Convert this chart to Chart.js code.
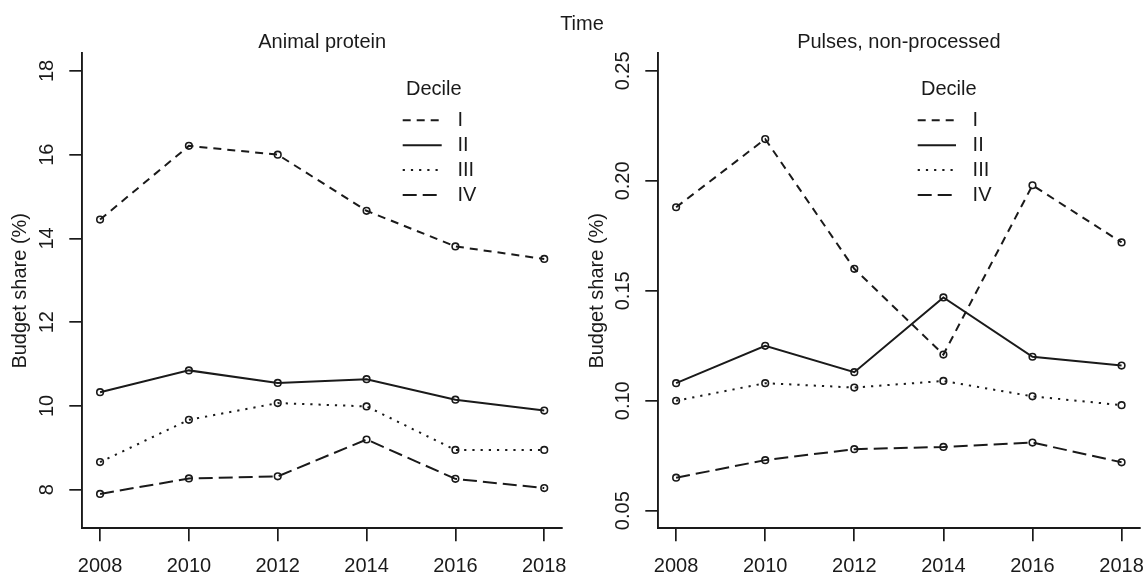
<!DOCTYPE html>
<html><head><meta charset="utf-8">
<script src="https://cdn.jsdelivr.net/npm/chart.js@4.4.1/dist/chart.umd.min.js"></script>
<style>
html,body{margin:0;padding:0;background:#fff;}
#wrap{position:relative;width:1145px;height:577px;overflow:hidden;background:#fff;}
canvas{position:absolute;top:0;}
#c1{left:0;}
#c2{left:572px;}
#time{position:absolute;left:0;width:1164px;top:11px;text-align:center;font-size:20px;font-family:'Liberation Sans',Arial,sans-serif;color:#1a1a1a;line-height:24px;}
</style></head><body>
<div id="wrap">
<canvas id="c1" width="572" height="577"></canvas>
<canvas id="c2" width="573" height="577"></canvas>
<div id="time"></div>
</div>
<script>
// ---- data ----
const years = [2008, 2010, 2012, 2014, 2016, 2018];
const decileLabels = ['I', 'II', 'III', 'IV'];
const legendTitle = 'Decile';
const overallTitle = 'Time';
const panelTitles = ['Animal protein', 'Pulses, non-processed'];
const yAxisTitle = 'Budget share (%)';

const animalI   = [14.45, 16.21, 16.00, 14.66, 13.81, 13.51];
const animalII  = [10.33, 10.85, 10.55, 10.64, 10.15, 9.89];
const animalIII = [8.66, 9.67, 10.07, 9.99, 8.95, 8.95];
const animalIV  = [7.90, 8.27, 8.32, 9.20, 8.26, 8.04];

const pulsesI   = [0.188, 0.219, 0.160, 0.121, 0.198, 0.172];
const pulsesII  = [0.108, 0.125, 0.113, 0.147, 0.120, 0.116];
const pulsesIII = [0.100, 0.108, 0.106, 0.109, 0.102, 0.098];
const pulsesIV  = [0.065, 0.073, 0.078, 0.079, 0.081, 0.072];

const xTicks = [2008, 2010, 2012, 2014, 2016, 2018];
const xTickLabels = ['2008', '2010', '2012', '2014', '2016', '2018'];
const animalYTicks = [8, 10, 12, 14, 16, 18];
const animalYTickLabels = ['8', '10', '12', '14', '16', '18'];
const pulsesYTicks = [0.05, 0.10, 0.15, 0.20, 0.25];
const pulsesYTickLabels = ['0.05', '0.10', '0.15', '0.20', '0.25'];

// ---- style ----
const INK = '#1a1a1a';
const FONT = "'Liberation Sans', Arial, sans-serif";
const dashes = [[8, 6], [], [2.2, 6], [14, 6]];

document.getElementById('time').textContent = overallTitle;

const legendPlugin = {
  id: 'decileLegend',
  afterDraw(chart, args, opts) {
    const ctx = chart.ctx;
    ctx.save();
    ctx.font = '20px ' + FONT;
    ctx.fillStyle = INK;
    ctx.textBaseline = 'middle';
    ctx.textAlign = 'left';
    ctx.fillText(legendTitle, opts.titleX, opts.titleY);
    chart.data.datasets.forEach((ds, i) => {
      const y = opts.y0 + i * opts.dy;
      ctx.beginPath();
      ctx.setLineDash(ds.borderDash);
      ctx.lineWidth = ds.borderWidth;
      ctx.strokeStyle = ds.borderColor;
      ctx.moveTo(opts.x0, y);
      ctx.lineTo(opts.x1, y);
      ctx.stroke();
      ctx.setLineDash([]);
      ctx.fillText(ds.label, opts.textX, y);
    });
    ctx.restore();
  }
};

function makeChart(id, cfg) {
  const datasets = cfg.series.map((vals, i) => ({
    label: decileLabels[i],
    data: years.map((yr, j) => ({ x: yr, y: vals[j] })),
    borderColor: INK,
    borderWidth: 2,
    borderDash: dashes[i],
    pointRadius: 3.3,
    pointBorderWidth: 1.6,
    pointBorderColor: INK,
    pointBackgroundColor: 'rgba(0,0,0,0)',
    fill: false,
    tension: 0
  }));
  const tickFont = { family: FONT, size: 20, lineHeight: 1.2 };
  return new Chart(document.getElementById(id), {
    type: 'line',
    data: { datasets },
    options: {
      responsive: false,
      animation: false,
      events: [],
      layout: { padding: { left: 0, right: cfg.padRight, top: 0, bottom: 0 } },
      plugins: {
        legend: { display: false },
        tooltip: { enabled: false },
        title: {
          display: true, text: cfg.title, fullSize: false, color: INK,
          font: { family: FONT, size: 20, weight: 'normal', lineHeight: 1 },
          padding: { top: 32, bottom: 1.3 }
        },
        decileLegend: cfg.legend
      },
      scales: {
        x: {
          type: 'linear', min: 2007.6, max: 2018.4,
          afterBuildTicks: s => { s.ticks = xTicks.map(v => ({ value: v })); },
          afterFit: s => { s.height = 48.7; s.paddingLeft = 0; s.paddingRight = 0; },
          ticks: {
            callback: (v, i) => xTickLabels[i], font: tickFont, color: INK,
            padding: 12.7, maxRotation: 0, minRotation: 0, autoSkip: false
          },
          grid: {
            display: true, drawOnChartArea: false, drawTicks: true, tickLength: 13,
            tickColor: INK, tickWidth: 1.7, color: INK, lineWidth: 1.7
          },
          border: { display: true, color: INK, width: 1.9 }
        },
        y: {
          type: 'linear', min: cfg.yMin, max: cfg.yMax,
          afterBuildTicks: s => { s.ticks = cfg.yTicks.map(v => ({ value: v })); },
          afterFit: s => { s.width = cfg.yWidth; s.paddingTop = 0; s.paddingBottom = 0; },
          ticks: {
            callback: (v, i) => cfg.yTickLabels[i], font: tickFont, color: INK,
            padding: cfg.yTickPad, minRotation: 90, maxRotation: 90, crossAlign: 'center', autoSkip: false
          },
          grid: {
            display: true, drawOnChartArea: false, drawTicks: true, tickLength: 13,
            tickColor: INK, tickWidth: 1.7, color: INK, lineWidth: 1.7
          },
          border: { display: true, color: INK, width: 1.9 },
          title: {
            display: true, text: yAxisTitle, color: INK,
            font: { family: FONT, size: 20, lineHeight: 1.2 },
            padding: { top: cfg.yTitlePad, bottom: 0 }
          }
        }
      }
    },
    plugins: [legendPlugin]
  });
}

makeChart('c1', {
  title: panelTitles[0],
  series: [animalI, animalII, animalIII, animalIV],
  yMin: 7.08, yMax: 18.42,
  yTicks: animalYTicks, yTickLabels: animalYTickLabels,
  yWidth: 82.3, yTickPad: 10.9, yTitlePad: 8.5, padRight: 10,
  legend: { titleX: 406, titleY: 89.3, x0: 402.7, x1: 441.7, textX: 457.5, y0: 120.3, dy: 24.9 }
});

makeChart('c2', {
  title: panelTitles[1],
  series: [pulsesI, pulsesII, pulsesIII, pulsesIV],
  yMin: 0.042, yMax: 0.258,
  yTicks: pulsesYTicks, yTickLabels: pulsesYTickLabels,
  yWidth: 86.3, yTickPad: 2.5, yTitlePad: 13, padRight: 5.5,
  legend: { titleX: 349, titleY: 89, x0: 345.7, x1: 384, textX: 400.6, y0: 120.3, dy: 24.9 }
});
</script>
</body></html>
